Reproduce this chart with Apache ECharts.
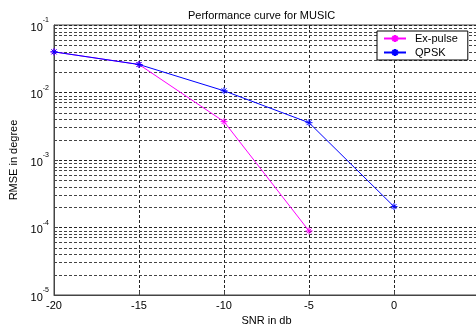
<!DOCTYPE html>
<html>
<head>
<meta charset="utf-8">
<script src="https://cdn.jsdelivr.net/npm/echarts@6/dist/echarts.min.js"></script>
<style>
html,body{margin:0;padding:0;background:#fff;overflow:hidden;}
#chart{width:490px;height:325px;}
</style>
</head>
<body>
<div id="chart"></div>
<script>
// Data
const snrValues = [-20, -15, -10, -5, 0];
const exPulseValues = [0.040, 0.026, 0.0037, 0.000089];
const qpskValues = [0.040, 0.026, 0.0106, 0.00357, 0.000204];
const seriesNames = ['Ex-pulse', 'QPSK'];
const xTicks = [-20, -15, -10, -5, 0, 5];
const yDecades = [-5, -4, -3, -2, -1];

// minor grid positions (log10 of 2..9 x 10^k) for each decade
const minorGridExp = [];
for (let i = 0; i < yDecades.length - 1; i++) {
  for (let m = 2; m <= 9; m++) minorGridExp.push(yDecades[i] + Math.log10(m));
}

const starPath = 'path://M5,0 L5,10 M0,5 L10,5 M1.5,1.5 L8.5,8.5 M1.5,8.5 L8.5,1.5';
const font = "'Liberation Sans', Arial, sans-serif";

const chart = echarts.init(document.getElementById('chart'), null, {renderer: 'canvas'});
chart.setOption({
  animation: false,
  backgroundColor: '#fff',
  title: {
    text: 'Performance curve for MUSIC',
    left: 183, top: 5,
    textStyle: {fontFamily: font, fontSize: 11, fontWeight: 'normal', color: '#000'}
  },
  legend: {
    data: seriesNames,
    orient: 'vertical',
    left: 377, top: 31, z: 20,
    itemWidth: 22, itemHeight: 9, itemGap: 1,
    padding: [1, 10, 1, 6],
    backgroundColor: '#fff',
    borderColor: '#000', borderWidth: 1, borderRadius: 0,
    textStyle: {fontFamily: font, fontSize: 11, color: '#000', padding: [0, 0, 0, 4], lineHeight: 13}
  },
  grid: {
    left: 54, top: 25, bottom: 30, right: 11,
    outerBoundsMode: 'none', containLabel: false,
    show: true, borderColor: '#444', borderWidth: 1, backgroundColor: '#fff'
  },
  xAxis: {
    type: 'value', min: -20, max: 5, interval: 5,
    name: 'SNR in db', nameLocation: 'middle', nameGap: 12,
    nameTextStyle: {fontFamily: font, fontSize: 11, color: '#000'},
    axisLine: {show: true, onZero: false, lineStyle: {color: '#444', width: 1}},
    axisTick: {show: true, inside: true, length: 4, lineStyle: {color: '#444'}},
    axisLabel: {fontFamily: font, fontSize: 11, color: '#000', margin: 5,
      formatter: v => xTicks.includes(v) ? String(v) : ''},
    splitLine: {show: true, lineStyle: {type: [3, 2], color: '#222', width: 1}}
  },
  yAxis: [
    {
      type: 'log', logBase: 10, min: 1e-5, max: 1e-1, interval: 1,
      name: 'RMSE in degree', nameLocation: 'middle', nameGap: 31, nameRotate: 90,
      nameTextStyle: {fontFamily: font, fontSize: 11, color: '#000'},
      axisLine: {show: true, onZero: false, lineStyle: {color: '#444', width: 1}},
      axisTick: {show: true, inside: true, length: 4, lineStyle: {color: '#444'}},
      axisLabel: {
        margin: 5,
        formatter: v => '{b|10}{s|' + Math.round(Math.log10(v)) + '}',
        rich: {
          b: {fontFamily: font, fontSize: 11, color: '#000', lineHeight: 16, verticalAlign: 'bottom'},
          s: {fontFamily: font, fontSize: 7, color: '#000', lineHeight: 16, verticalAlign: 'top', padding: [0, 0, 6, 0]}
        }
      },
      splitLine: {show: true, lineStyle: {type: [3, 2], color: '#222', width: 1}}
    },
    {
      type: 'value', min: yDecades[0], max: yDecades[yDecades.length - 1], position: 'left',
      show: false,
      axisLine: {show: false}, axisTick: {show: false}, axisLabel: {show: false}, splitLine: {show: false}
    }
  ],
  series: [
    {
      name: 'minor-grid', type: 'line', yAxisIndex: 1, data: [], silent: true, z: 1,
      markLine: {
        silent: true, symbol: 'none', animation: false, z: 1,
        label: {show: false},
        lineStyle: {type: [3, 2], color: '#444', width: 1},
        data: minorGridExp.map(v => ({yAxis: v}))
      }
    },
    {
      name: seriesNames[0], type: 'line', z: 3,
      data: exPulseValues.map((v, i) => [snrValues[i], v]),
      symbol: starPath, symbolSize: 7, showSymbol: true,
      lineStyle: {color: '#ff00ff', width: 1},
      itemStyle: {color: '#ff00ff', borderColor: '#ff00ff', borderWidth: 1}
    },
    {
      name: seriesNames[1], type: 'line', z: 4,
      data: qpskValues.map((v, i) => [snrValues[i], v]),
      symbol: starPath, symbolSize: 7, showSymbol: true,
      lineStyle: {color: '#0000ff', width: 1},
      itemStyle: {color: '#0000ff', borderColor: '#0000ff', borderWidth: 1}
    }
  ]
});
</script>
</body>
</html>
